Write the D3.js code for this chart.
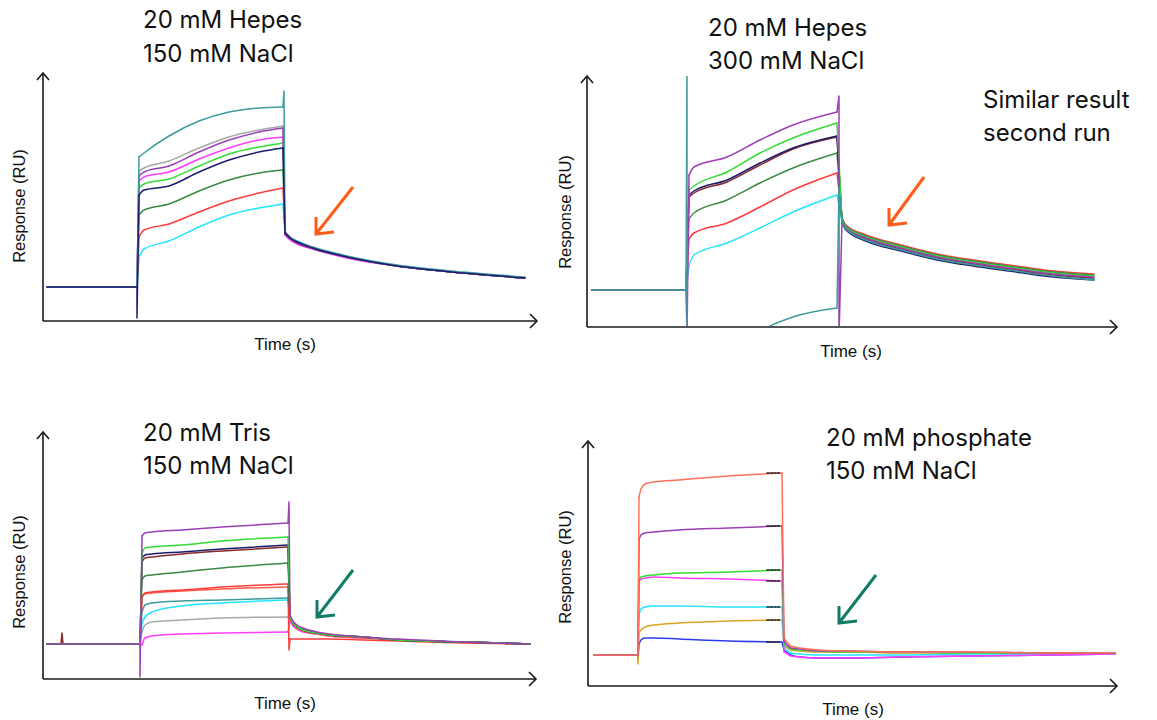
<!DOCTYPE html>
<html><head><meta charset="utf-8">
<script src="https://cdn.jsdelivr.net/npm/d3@7/dist/d3.min.js"></script>
<style>body{margin:0;background:#fff}svg{display:block}</style>
</head><body>
<script>
// ===================== DATA (time in s, response in RU) =====================
// ---- Panel 1: 20 mM Hepes / 150 mM NaCl ----
const p1XMax = 494, p1YMax = 248;
const p1Series = ["cyan","red","dkgreen","green","magenta","gray","purple","teal","navy"];
const p1PreT = [4, 94];
const p1Pre = [[34,34],[34,34],[34,34],[34,34],[34,34],[34,34],[34,34],[34,34],[34,34]];
const p1InjT = 94;
const p1InjSpike = [[],[],[],[],[],[],[],[],[3]];
const p1AssocT = [96,101,126,156,186,216,240];
const p1Assoc = [
  [64,72,80,94,106,113,117],
  [84,91,97,109,120,128,133],
  [106,111,117,130,141,148,151],
  [133,137,142,155,167,174,178],
  [140,144,149,162,173,181,184],
  [150,153,160,173,184,191,195],
  [145,149,155,169,181,189,193],
  [164,168,185,200,209,213,214],
  [126,131,135,149,161,169,173]
];
const p1EndT = 241;
const p1EndSpike = [[],[],[],[],[],[],[],[230],[]];
const p1DissT = [242,247,254,270,304,354,420,482];
const p1Diss = [
  [88,83,79,73,64,55,48,43],
  [89,84,79,73,64,55,48,43],
  [88,83,79,73,64,55,48,43],
  [88,83,79,73,64,55,48,43],
  [86,81,77,72,63,55,48,43],
  [88,83,79,73,64,55,48,43],
  [87,82,78,72,64,55,48,43],
  [89,84,80,74,65,56,49,44],
  [88,83,79,73,64,55,48,43]
];

// ---- Panel 2: 20 mM Hepes / 300 mM NaCl ----
const p2XMax = 530, p2YMax = 251;
const p2Series = ["cyan","red","dkgreen","brown","navy","green","purple","teal"];
const p2PreT = [5, 99];
const p2Pre = [[37,37],[37,37],[37,37],[37,37],[37,37],[37,37],[37,37],[37,37]];
const p2InjT = 100;
const p2InjSpike = [[],[],[],[],[],[],[-10],[260,-80]];
const p2AssocT = [102,107,140,173,206,250];
const p2Assoc = [
  [62,72,84,99,115,132],
  [88,94,104,120,137,154],
  [108,114,127,144,159,174],
  [130,134,145,162,178,190],
  [132,136,147,164,179,191],
  [137,141,155,174,189,204],
  [152,160,170,187,202,215],
  [-80,-70,-40,-5,10,19]
];
const p2EndT = 252;
const p2EndSpike = [[],[],[],[],[],[],[231,-10],[140]];
const p2DissT = [255,259,279,314,350,386,422,457,507];
const p2Diss = [
  [105,98,87,77,68,62,57,52,48],
  [109,102,92,82,73,67,62,57,53],
  [108,101,91,81,72,66,61,56,52],
  [106,99,88,78,69,63,58,53,49],
  [104,97,86,76,67,61,56,51,47],
  [107,100,90,80,71,65,60,55,51],
  [106,99,89,79,70,64,59,54,50],
  [105,98,87,77,68,62,57,52,47]
];

// ---- Panel 3: 20 mM Tris / 150 mM NaCl ----
const p3XMax = 493, p3YMax = 247;
const p3Series = ["magenta","gray","cyan","teal","tomato","red","dkgreen","brown","navy","green","purple"];
const p3PreT = [4,18,19,20,97];
const p3Pre = [
  [35,35,35,35,35],[35,35,35,35,35],[35,35,35,35,35],[35,35,35,35,35],
  [35,35,35,35,35],[35,35,35,35,35],[35,35,35,35,35],[35,35,46,35,35],
  [35,35,35,35,35],[35,35,35,35,35],[35,35,35,35,35]
];
const p3InjT = 97;
const p3InjSpike = [[],[],[],[],[],[],[],[],[],[],[2]];
const p3AssocT = [99,102,109,139,179,245];
const p3Assoc = [
  [34,41,43,45,46,47],
  [47,54,57,59,61,62],
  [56,62,67,73,76,79],
  [67,74,76,78,79,81],
  [82,85,86,88,90,92],
  [82,86,87,89,92,95],
  [99,103,104,107,111,116],
  [117,121,122,125,128,132],
  [121,124,125,127,130,134],
  [126,131,132,134,138,142],
  [143,146,147,149,152,156]
];
const p3EndT = 246;
const p3EndSpike = [[],[],[],[],[],[29],[],[],[],[],[177]];
const p3DissT = [247,250,254,260,274,287,320,354,420,487];
const p3Diss = [
  [58,53,50,47,45,43,41,39,37,35],
  [62,56,52,49,46,44,42,39,37,35],
  [62,56,52,49,46,44,42,39,37,35],
  [62,56,52,49,46,44,42,39,37,35],
  [60,55,51,48,45,43,41,39,37,35],
  [40,40,40,40,40,40,39,38,36,35],
  [62,56,52,49,46,44,42,39,37,35],
  [62,56,52,49,46,44,42,39,37,35],
  [62,56,52,49,46,44,42,39,37,35],
  [62,56,52,49,46,44,42,39,37,35],
  [64,58,54,51,47,45,42,40,37,35]
];

// ---- Panel 4: 20 mM phosphate / 150 mM NaCl ----
const p4XMax = 529, p4YMax = 245;
const p4Series = ["blue","gold","cyan","magenta","green","purple","salmon"];
const p4PreT = [6, 50];
const p4Pre = [[31,31],[31,31],[31,31],[31,31],[31,31],[31,31],[31,31]];
const p4InjT = 50;
const p4InjSpike = [[26],[22],[],[],[],[],[]];
const p4AssocT = [51,53,57,66,91,141,194];
const p4Assoc = [
  [42,46,48,48,47,45,44],
  [53,56,59,61,63,65,66],
  [71,77,79,80,80,79,79],
  [104,107,108,109,108,107,105],
  [106,109,110,111,113,114,116],
  [146,151,153,154,156,158,160],
  [189,197,202,204,206,210,213]
];
const p4EndT = 195;
const p4EndSpike = [[],[],[],[],[],[],[]];
const p4DissT = [196,203,212,230,260,312,382,462,527];
const p4Diss = [
  [36,31,29,28,28,29,30,31,32],
  [40,36,35,34,34,33,33,33,33],
  [38,33,32,31,31,31,32,32,32],
  [34,30,29,28,28,29,30,31,32],
  [42,37,36,35,34,34,33,33,33],
  [45,38,37,35,35,34,34,33,33],
  [48,40,38,36,35,34,34,33,33]
];
const p4MarkerT = [179, 193];

// Annotation arrows [tailT, tailRU, tipT, tipRU]
const p1Arrow = [310,134,273,87];
const p2Arrow = [337,150,302,102];
const p3Arrow = [310,109,274,62];
const p4Arrow = [288,111,251,63];

// ===================== STYLE =====================
const COLORS = {teal:"#3f9c9c", gray:"#a8a8a8", purple:"#9b3fb5", magenta:"#ff3cff",
  green:"#33dd33", navy:"#1c1c6e", dkgreen:"#3a8a45", red:"#ff3b3b", cyan:"#22e5ff",
  brown:"#8a2a2a", tomato:"#ff5a4a", salmon:"#ff7058", gold:"#d9a520", blue:"#2a3cf0"};
const ORANGE = "#ff5c1a", TEALGREEN = "#127d66";
const TITLE_FONT = "Inter, 'Open Sans', sans-serif";
const LABEL_FONT = "'Liberation Sans', Arial, sans-serif";

const svg = d3.select("body").append("svg").attr("width",1157).attr("height",720);

const panels = [
  {id:1, x0:43, x1:537, yTop:73, yBase:321, xMax:p1XMax, yMax:p1YMax, series:p1Series, preT:p1PreT, pre:p1Pre,
   injT:p1InjT, inj:p1InjSpike, aT:p1AssocT, a:p1Assoc, endT:p1EndT, end:p1EndSpike, dT:p1DissT, d:p1Diss,
   arrow:p1Arrow, arrowColor:ORANGE,
   titles:[["20 mM Hepes",143,28],["150 mM NaCl",143,62]],
   ylab:[19,206], xlab:[285,350]},
  {id:2, x0:587, x1:1117, yTop:76, yBase:327, xMax:p2XMax, yMax:p2YMax, series:p2Series, preT:p2PreT, pre:p2Pre,
   injT:p2InjT, inj:p2InjSpike, aT:p2AssocT, a:p2Assoc, endT:p2EndT, end:p2EndSpike, dT:p2DissT, d:p2Diss,
   arrow:p2Arrow, arrowColor:ORANGE,
   titles:[["20 mM Hepes",708,36],["300 mM NaCl",708,69],["Similar result",983,108],["second run",983,141]],
   ylab:[565,212], xlab:[851,357]},
  {id:3, x0:43, x1:536, yTop:432, yBase:679, xMax:p3XMax, yMax:p3YMax, series:p3Series, preT:p3PreT, pre:p3Pre,
   injT:p3InjT, inj:p3InjSpike, aT:p3AssocT, a:p3Assoc, endT:p3EndT, end:p3EndSpike, dT:p3DissT, d:p3Diss,
   arrow:p3Arrow, arrowColor:TEALGREEN,
   titles:[["20 mM Tris",143,441],["150 mM NaCl",143,474]],
   ylab:[19,572], xlab:[285,709]},
  {id:4, x0:588, x1:1117, yTop:441, yBase:686, xMax:p4XMax, yMax:p4YMax, series:p4Series, preT:p4PreT, pre:p4Pre,
   injT:p4InjT, inj:p4InjSpike, aT:p4AssocT, a:p4Assoc, endT:p4EndT, end:p4EndSpike, dT:p4DissT, d:p4Diss,
   arrow:p4Arrow, arrowColor:TEALGREEN, markers:p4MarkerT,
   titles:[["20 mM phosphate",826,446],["150 mM NaCl",826,479]],
   ylab:[565,567], xlab:[853,715]}
];

const lineLin = d3.line();
const lineSmooth = d3.line().curve(d3.curveMonotoneX);

panels.forEach(p => {
  const x = d3.scaleLinear().domain([0, p.xMax]).range([p.x0, p.x1]);
  const y = d3.scaleLinear().domain([0, p.yMax]).range([p.yBase, p.yTop]);
  const g = svg.append("g");
  const clipId = "clip" + p.id;
  svg.append("clipPath").attr("id", clipId).append("rect")
    .attr("x", p.x0 + 1).attr("y", p.yTop).attr("width", p.x1 - p.x0).attr("height", p.yBase - p.yTop - 1);
  const plot = g.append("g").attr("clip-path", `url(#${clipId})`)
    .attr("fill","none").attr("stroke-width",1.5).attr("stroke-linejoin","round").attr("stroke-linecap","round");

  p.series.forEach((name, i) => {
    const col = COLORS[name];
    const pre = p.preT.map((t,j) => [x(t), y(p.pre[i][j])])
      .concat(p.inj[i].map(v => [x(p.injT), y(v)]))
      .concat([[x(p.aT[0]), y(p.a[i][0])]]);
    const assoc = p.aT.map((t,j) => [x(t), y(p.a[i][j])]);
    const lastA = p.aT.length - 1;
    const trans = [[x(p.aT[lastA]), y(p.a[i][lastA])]]
      .concat(p.end[i].map(v => [x(p.endT), y(v)]))
      .concat([[x(p.dT[0]), y(p.d[i][0])]]);
    const diss = p.dT.map((t,j) => [x(t), y(p.d[i][j])]);
    const sg = plot.append("g").attr("stroke", col);
    sg.append("path").attr("d", lineLin(pre));
    sg.append("path").attr("d", lineSmooth(assoc));
    sg.append("path").attr("d", lineLin(trans));
    sg.append("path").attr("d", lineSmooth(diss));
    if (p.markers) {
      sg.append("line")
        .attr("x1", x(p.markers[0])).attr("x2", x(p.markers[1]))
        .attr("y1", y(p.a[i][lastA])).attr("y2", y(p.a[i][lastA]))
        .attr("stroke","#222").attr("stroke-width",1.6).attr("stroke-dasharray","2,1.5");
    }
  });

  // axes with open arrowheads
  const ax = g.append("g").attr("stroke","#1a1a1a").attr("stroke-width",1.6).attr("fill","none");
  ax.append("line").attr("x1",p.x0).attr("y1",p.yBase).attr("x2",p.x1).attr("y2",p.yBase);
  ax.append("line").attr("x1",p.x0).attr("y1",p.yBase).attr("x2",p.x0).attr("y2",p.yTop);
  ax.append("path").attr("d",`M${p.x1-7},${p.yBase-7}L${p.x1},${p.yBase}L${p.x1-7},${p.yBase+7}`);
  ax.append("path").attr("d",`M${p.x0-6},${p.yTop+7}L${p.x0},${p.yTop}L${p.x0+6},${p.yTop+7}`);

  // axis labels
  g.append("text").attr("x", p.xlab[0]).attr("y", p.xlab[1]).attr("text-anchor","middle")
    .attr("font-family",LABEL_FONT).attr("font-size",17).attr("fill","#111")
    .text("Time (s)");
  g.append("text").attr("transform",`translate(${p.ylab[0]},${p.ylab[1]}) rotate(-90)`)
    .attr("text-anchor","middle").attr("dy","0.35em")
    .attr("font-family",LABEL_FONT).attr("font-size",16.5).attr("fill","#111")
    .text("Response (RU)");

  // titles
  p.titles.forEach(([txt, tx, ty]) => {
    g.append("text").attr("x", tx).attr("y", ty)
      .attr("font-family",TITLE_FONT).attr("font-size",24).attr("fill","#111")
      .text(txt);
  });

  // annotation arrow
  const [tt, tr, ht, hr] = p.arrow;
  const tx0 = x(tt), ty0 = y(tr), hx = x(ht), hy = y(hr);
  g.append("path")
    .attr("d", `M${tx0},${ty0}L${hx},${hy}M${hx},${hy-17}L${hx},${hy}L${hx+18},${hy-2}`)
    .attr("fill","none").attr("stroke", p.arrowColor).attr("stroke-width",3)
    .attr("stroke-linecap","butt").attr("stroke-linejoin","miter");
});
</script>
</body></html>
